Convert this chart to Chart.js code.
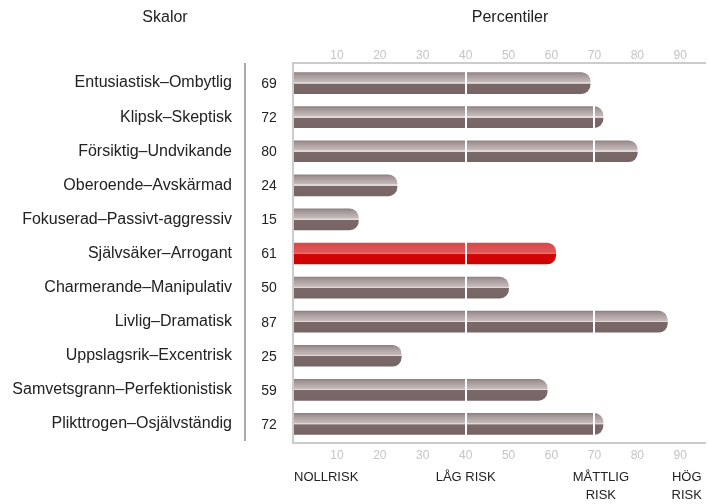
<!DOCTYPE html>
<html>
<head>
<meta charset="utf-8">
<script src="https://cdn.jsdelivr.net/npm/chart.js@4"></script>
<style>
  html, body { margin: 0; padding: 0; background: #fff; }
  #wrap { width: 708px; height: 504px; }
</style>
</head>
<body>
<div id="wrap"><canvas id="myChart" width="708" height="504"></canvas></div>
<script>
// skalor och percentiler
var scaleNames = ['Entusiastisk–Ombytlig', 'Klipsk–Skeptisk', 'Försiktig–Undvikande', 'Oberoende–Avskärmad',
    'Fokuserad–Passivt-aggressiv', 'Självsäker–Arrogant', 'Charmerande–Manipulativ', 'Livlig–Dramatisk',
    'Uppslagsrik–Excentrisk', 'Samvetsgrann–Perfektionistisk', 'Plikttrogen–Osjälvständig'];
var percentiles = [69, 72, 80, 24, 15, 61, 50, 87, 25, 59, 72];
var highlighted = 'Självsäker–Arrogant';
var tickValues = [10, 20, 30, 40, 50, 60, 70, 80, 90];
var riskBounds = [40, 70];
var riskLabels = [['NOLLRISK'], ['LÅG RISK'], ['MÅTTLIG', 'RISK'], ['HÖG', 'RISK']];

var FONT = 'Arial, "Liberation Sans", Helvetica, sans-serif';
// where each risk label sits on the x scale
var riskLabelAt = [0, 40, 71.5, 91.5];

function barFill(ctx) {
    var chart = ctx.chart;
    var area = chart.chartArea;
    if (!area) return '#7a6868';
    var y = chart.scales.y.getPixelForValue(ctx.dataIndex);
    var h = 21;
    var g = chart.ctx.createLinearGradient(0, y - h / 2, 0, y + h / 2);
    var red = scaleNames[ctx.dataIndex] === highlighted;
    if (red) {
        g.addColorStop(0, '#d84848');
        g.addColorStop(0.45, '#e05858');
        g.addColorStop(0.46, '#e87070');
        g.addColorStop(0.52, '#e87070');
        g.addColorStop(0.53, '#d20606');
        g.addColorStop(1, '#d00000');
    } else {
        g.addColorStop(0, '#8e7f7f');
        g.addColorStop(0.08, '#a09292');
        g.addColorStop(0.45, '#c6bcbc');
        g.addColorStop(0.46, '#e0d8d8');
        g.addColorStop(0.52, '#e0d8d8');
        g.addColorStop(0.53, '#7b6969');
        g.addColorStop(1, '#776565');
    }
    return g;
}

var decor = {
    id: 'decor',
    beforeDatasetsDraw: function (chart) {
        var c = chart.ctx, a = chart.chartArea;
        c.save();
        // ram
        c.strokeStyle = '#cccccc';
        c.lineWidth = 2;
        c.beginPath();
        c.moveTo(a.right, a.top - 3);
        c.lineTo(a.left - 1, a.top - 3);
        c.lineTo(a.left - 1, a.bottom + 2);
        c.lineTo(a.right, a.bottom + 2);
        c.stroke();
        // skiljelinje
        c.strokeStyle = '#aaaaaa';
        c.beginPath();
        c.moveTo(245, a.top - 3);
        c.lineTo(245, a.bottom);
        c.stroke();
        c.restore();
    },
    afterDatasetsDraw: function (chart) {
        var c = chart.ctx, a = chart.chartArea, x = chart.scales.x, y = chart.scales.y;
        c.save();
        // vita linjer vid riskgränser
        c.strokeStyle = '#ffffff';
        c.lineWidth = 2;
        riskBounds.forEach(function (v) {
            var px = Math.round(x.getPixelForValue(v));
            c.beginPath();
            c.moveTo(px, a.top);
            c.lineTo(px, a.bottom);
            c.stroke();
        });
        // percentilvärden
        c.fillStyle = '#222';
        c.font = '14px ' + FONT;
        c.textAlign = 'center';
        c.textBaseline = 'middle';
        percentiles.forEach(function (v, i) {
            c.fillText(String(v), 269, y.getPixelForValue(i) + 1);
        });
        // rubriker
        c.font = '16px ' + FONT;
        c.fillText('Skalor', 165, 18);
        c.fillText('Percentiler', 510, 18);
        // risknivåer
        c.font = '13px ' + FONT;
        riskLabels.forEach(function (lines, i) {
            var px = x.getPixelForValue(riskLabelAt[i]);
            c.textAlign = i === 0 ? 'left' : 'center';
            lines.forEach(function (t, j) {
                c.fillText(t, px, 477 + j * 18);
            });
        });
        c.restore();
    }
};

var ctx = document.getElementById('myChart').getContext('2d');
var chart = new Chart(ctx, {
    type: 'bar',
    data: {
        labels: scaleNames,
        datasets: [{
            data: percentiles,
            backgroundColor: barFill,
            borderWidth: 0,
            borderRadius: 9,
            borderSkipped: 'start',
            barThickness: 21
        }]
    },
    options: {
        indexAxis: 'y',
        responsive: false,
        animation: false,
        layout: { padding: { top: 0, right: 2, bottom: 0, left: 0 } },
        plugins: {
            legend: { display: false },
            tooltip: { enabled: false }
        },
        scales: {
            x: {
                position: 'bottom',
                min: 0,
                max: 96,
                grid: { display: false },
                border: { display: false },
                afterBuildTicks: function (s) { s.ticks = tickValues.map(function (v) { return { value: v }; }); },
                afterFit: function (s) { s.height = 63; },
                ticks: { color: '#c4c4c4', font: { size: 12, family: FONT }, padding: -1, maxRotation: 0, autoSkip: false }
            },
            x2: {
                position: 'top',
                axis: 'x',
                min: 0,
                max: 96,
                grid: { display: false },
                border: { display: false },
                afterBuildTicks: function (s) { s.ticks = tickValues.map(function (v) { return { value: v }; }); },
                afterFit: function (s) { s.height = 66; },
                ticks: { color: '#c4c4c4', font: { size: 12, family: FONT }, padding: -5, maxRotation: 0, autoSkip: false }
            },
            y: {
                grid: { display: false },
                border: { display: false },
                afterFit: function (s) { s.width = 294; s.paddingTop = 0; s.paddingBottom = 0; },
                ticks: { color: '#222', font: { size: 16, family: FONT }, padding: 54, autoSkip: false }
            }
        }
    },
    plugins: [decor]
});
</script>
</body>
</html>
